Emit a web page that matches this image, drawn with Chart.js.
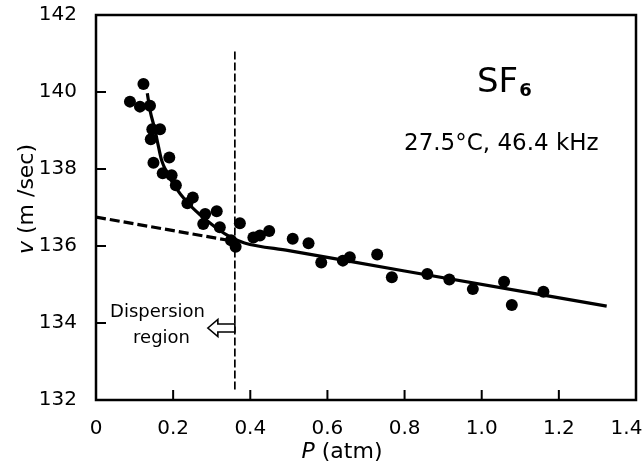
<!DOCTYPE html>
<html><head><meta charset="utf-8">
<script src="https://cdn.jsdelivr.net/npm/chart.js@4/dist/chart.umd.min.js"></script>
<style>html,body{margin:0;padding:0;background:#fff;}#wrap{width:643px;height:472px;}</style>
</head><body><div id="wrap"><canvas id="c" width="643" height="472"></canvas></div>
<script>
// Measured points: pressure P (atm) and sound velocity v (m/sec)
const pressure = [0.088, 0.123, 0.114, 0.140, 0.146, 0.166, 0.142, 0.149, 0.190, 0.173, 0.196, 0.207, 0.251, 0.237, 0.283, 0.313, 0.278, 0.321, 0.373, 0.350, 0.362, 0.408, 0.425, 0.449, 0.510, 0.551, 0.584, 0.640, 0.658, 0.729, 0.767, 0.859, 0.916, 0.977, 1.058, 1.078, 1.160];
const velocity = [139.75, 140.21, 139.62, 139.64, 139.03, 139.03, 138.77, 138.16, 138.30, 137.89, 137.84, 137.58, 137.26, 137.11, 136.83, 136.90, 136.57, 136.49, 136.59, 136.15, 135.98, 136.22, 136.27, 136.39, 136.19, 136.07, 135.57, 135.62, 135.71, 135.78, 135.19, 135.27, 135.13, 134.88, 135.07, 134.47, 134.81];
// Solid fitted curve
const fitPressure = [0.133, 0.140, 0.153, 0.162, 0.170, 0.185, 0.205, 0.235, 0.270, 0.313, 0.347, 0.385, 0.50, 0.80, 1.324];
const fitVelocity = [139.97, 139.53, 139.01, 138.58, 138.23, 137.89, 137.54, 137.15, 136.81, 136.46, 136.24, 136.08, 135.88, 135.35, 134.44];
// Dashed extrapolation of the linear part
const extrapPressure = [0, 0.36];
const extrapVelocity = [136.75, 136.12];
// Dispersion region boundary (vertical dashed line)
const boundaryPressure = [0.36, 0.36];
const boundaryVelocity = [141.05, 132.25];
// Axis ticks
const xTickValues = [0, 0.2, 0.4, 0.6, 0.8, 1.0, 1.2, 1.4];
const xTickLabels = ['0', '0.2', '0.4', '0.6', '0.8', '1.0', '1.2', '1.4'];
const yTickValues = [132, 134, 136, 138, 140, 142];
const yTickLabels = ['132', '134', '136', '138', '140', '142'];

const toXY = (xs, ys) => xs.map((v, i) => ({x: v, y: ys[i]}));
const FONT = '"DejaVu Sans", sans-serif';

const decor = {
  id: 'decor',
  beforeDraw(chart) {
    const c = chart.ctx;
    c.save(); c.fillStyle = '#fff'; c.fillRect(0, 0, chart.width, chart.height); c.restore();
  },
  afterDraw(chart) {
    const c = chart.ctx, a = chart.chartArea, xs = chart.scales.x, ys = chart.scales.y;
    c.save();
    c.strokeStyle = '#000'; c.fillStyle = '#000';
    c.lineWidth = 2.5;
    c.strokeRect(a.left, a.top, a.right - a.left, a.bottom - a.top);
    c.lineWidth = 2;
    c.beginPath();
    xTickValues.slice(1, -1).forEach(v => { const px = xs.getPixelForValue(v); c.moveTo(px, a.bottom); c.lineTo(px, a.bottom - 10); });
    yTickValues.slice(1, -1).forEach(v => { const py = ys.getPixelForValue(v); c.moveTo(a.left, py); c.lineTo(a.left + 10, py); });
    c.stroke();

    // SF6 label
    c.textBaseline = 'alphabetic'; c.textAlign = 'left';
    c.font = '34px ' + FONT;
    c.fillText('SF', 477, 92);
    const w = c.measureText('SF').width;
    c.font = 'bold 18px ' + FONT;
    c.fillText('6', 477 + w + 1, 96);
    c.font = '23px ' + FONT;
    c.fillText('27.5°C, 46.4 kHz', 404, 150);

    // Dispersion region
    c.font = '18px ' + FONT;
    c.textAlign = 'right';
    c.fillText('Dispersion', 205, 317);
    c.fillText('region', 190, 343);

    // hollow arrow
    const bx = xs.getPixelForValue(0.36);
    const cy = ys.getPixelForValue(133.87);
    const tip = bx - 27;
    c.beginPath();
    c.moveTo(tip, cy);
    c.lineTo(tip + 10, cy - 8.5);
    c.lineTo(tip + 10, cy - 4);
    c.lineTo(bx, cy - 4);
    c.lineTo(bx, cy + 4);
    c.lineTo(tip + 10, cy + 4);
    c.lineTo(tip + 10, cy + 8.5);
    c.closePath();
    c.fillStyle = '#fff'; c.fill();
    c.lineWidth = 1.6; c.stroke();
    c.fillStyle = '#000';

    // x axis title
    c.textAlign = 'left';
    c.font = 'italic 22px ' + FONT;
    const wp = c.measureText('P').width;
    c.font = '22px ' + FONT;
    const wr = c.measureText(' (atm)').width;
    let sx = 342 - (wp + wr) / 2;
    c.font = 'italic 22px ' + FONT; c.fillText('P', sx, 458);
    c.font = '22px ' + FONT; c.fillText(' (atm)', sx + wp, 458);

    // y axis title
    c.translate(27, 199);
    c.rotate(-Math.PI / 2);
    c.textBaseline = 'middle';
    c.font = 'italic 22px ' + FONT;
    const wv = c.measureText('v').width;
    c.font = '22px ' + FONT;
    const wr2 = c.measureText(' (m /sec)').width;
    sx = -(wv + wr2) / 2;
    c.font = 'italic 22px ' + FONT; c.fillText('v', sx, 0);
    c.font = '22px ' + FONT; c.fillText(' (m /sec)', sx + wv, 0);
    c.restore();
  }
};

new Chart(document.getElementById('c'), {
  type: 'scatter',
  data: {
    datasets: [
      { label: 'Measured', data: toXY(pressure, velocity), pointRadius: 6, pointBackgroundColor: '#000', pointBorderWidth: 0, showLine: false },
      { label: 'Fit', data: toXY(fitPressure, fitVelocity), showLine: true, pointRadius: 0, borderColor: '#000', borderWidth: 3.2, cubicInterpolationMode: 'monotone' },
      { label: 'Extrapolation', data: toXY(extrapPressure, extrapVelocity), showLine: true, pointRadius: 0, borderColor: '#000', borderWidth: 3.2, borderDash: [10, 4] },
      { label: 'Boundary', data: toXY(boundaryPressure, boundaryVelocity), showLine: true, pointRadius: 0, borderColor: '#000', borderWidth: 1.7, borderDash: [8, 3] }
    ]
  },
  options: {
    responsive: false, animation: false, devicePixelRatio: 1,
    layout: { padding: { top: 15, right: 7, left: 0, bottom: 0 } },
    plugins: { legend: { display: false }, tooltip: { enabled: false } },
    scales: {
      x: {
        type: 'linear', min: 0, max: 1.4,
        afterBuildTicks: s => { s.ticks = xTickValues.map(v => ({value: v})); },
        afterFit: s => { s.height = 72; s.paddingLeft = 0; s.paddingRight = 0; },
        grid: { display: false }, border: { display: false },
        ticks: { color: '#000', font: { family: FONT, size: 20 }, padding: 9, maxRotation: 0, autoSkip: false,
                 callback: (v, i) => i === xTickLabels.length - 1 ? xTickLabels[i] + '   ' : xTickLabels[i] }
      },
      y: {
        type: 'linear', min: 132, max: 142,
        afterBuildTicks: s => { s.ticks = yTickValues.map(v => ({value: v})); },
        afterFit: s => { s.width = 96; s.paddingTop = 0; s.paddingBottom = 0; },
        grid: { display: false }, border: { display: false },
        ticks: { color: '#000', font: { family: FONT, size: 20 }, padding: 11,
                 callback: (v, i) => yTickLabels[i] }
      }
    }
  },
  plugins: [decor]
});
</script></body></html>
